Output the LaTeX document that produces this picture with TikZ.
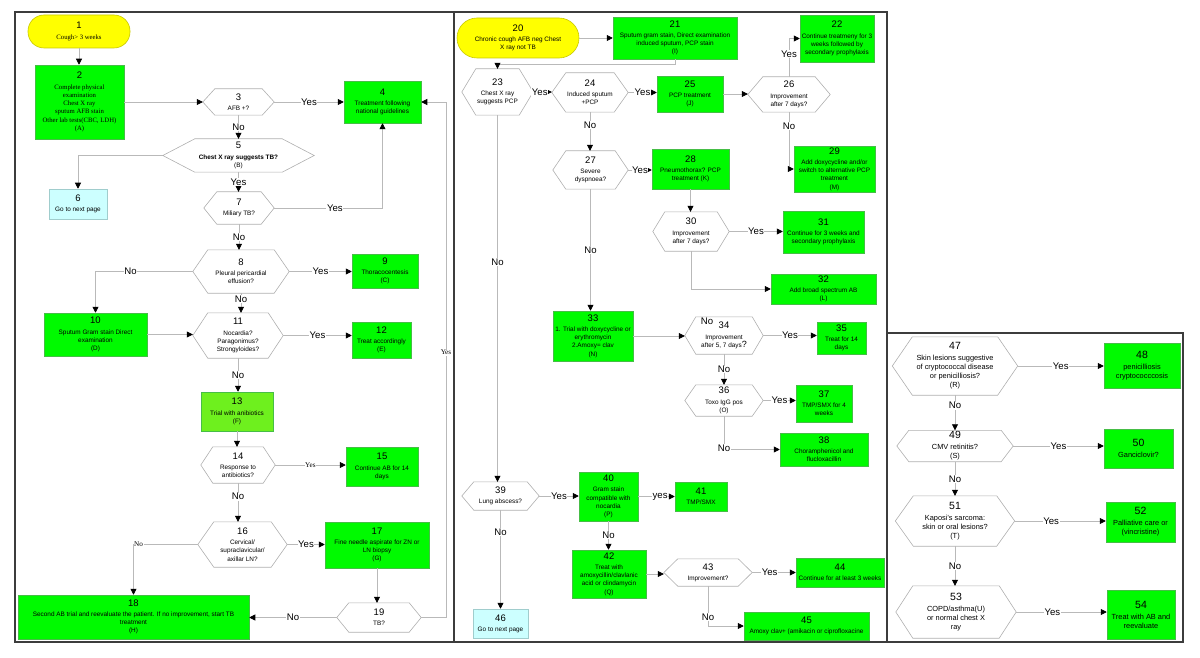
\documentclass[tikz,border=0pt]{standalone}
\usepackage{fontspec}
\setmainfont{Liberation Sans}
\newfontfamily\seriffont{Liberation Serif}
\usetikzlibrary{arrows.meta}
\definecolor{grn}{RGB}{0,250,0}
\definecolor{gbd}{RGB}{70,190,70}
\definecolor{limeg}{RGB}{110,240,30}
\definecolor{ylw}{RGB}{255,255,0}
\definecolor{ybd}{RGB}{200,200,0}
\definecolor{cyn}{RGB}{204,255,255}
\definecolor{cbd}{RGB}{160,205,205}
\definecolor{hexc}{RGB}{175,175,175}
\definecolor{lnc}{RGB}{185,185,185}
\definecolor{pnl}{RGB}{60,60,60}
\newcommand\nm[1]{{\normalfont\fontsize{9.5}{10}\selectfont #1}\\[2pt]}
\newcommand\nmb[1]{{\normalfont\fontsize{10.5}{11}\selectfont #1}\\[2pt]}
\newcommand\bx[7]{\node[#1, minimum width=#5pt, minimum height=#6pt] (#2) at (#3,#4) {#7};}
\newcommand\hexnode[7]{%
  \node[minimum width=#4pt, minimum height=#5pt] (#1) at (#2,#3) {#7};
  \draw[hexline] (#1.west) -- ([xshift=#6pt]#1.north west) -- ([xshift=-#6pt]#1.north east) -- (#1.east) -- ([xshift=-#6pt]#1.south east) -- ([xshift=#6pt]#1.south west) -- cycle;}
\tikzset{
  every node/.style={inner sep=0pt, align=center, font=\fontsize{6.4}{8.2}\selectfont},
  gbox/.style={draw=gbd, fill=grn, line width=0.5pt},
  lbox/.style={draw=gbd, fill=limeg, line width=0.5pt},
  ybox/.style={draw=ybd, fill=ylw, line width=0.6pt},
  cbox/.style={draw=cbd, fill=cyn, line width=0.5pt},
  hexline/.style={draw=hexc, line width=0.6pt},
  conn/.style={draw=lnc, line width=0.7pt, -{Triangle[length=6pt,width=6pt,color=black]}},
  lab/.style={font=\fontsize{9.6}{10}\selectfont, fill=white, inner sep=0.6pt},
  slab/.style={font=\seriffont\fontsize{7.2}{8}\selectfont, fill=white, inner sep=0.6pt},
  panel/.style={draw=pnl, line width=1.1pt},
  serifnode/.style={font=\seriffont\fontsize{6.7}{8.3}\selectfont}
}
\begin{document}
\begin{tikzpicture}[x=1pt,y=-1pt]
\useasboundingbox (0,0) rectangle (1200,658);
\draw[panel] (15,12) rectangle (454,642);
\draw[panel] (454,12) rectangle (887,642);
\draw[panel] (887,333) rectangle (1183,642);
% ---------- left panel ----------
\bx{ybox,rounded corners=16pt,serifnode}{N1}{79}{31.5}{102}{33}{\nm{1}Cough> 3 weeks}
\bx{gbox,serifnode}{N2}{79.5}{102}{89}{74}{\nm{2}Complete physical\\examination\\Chest X ray\\sputum AFB stain\\Other lab tests(CBC, LDH)\\(A)}
\hexnode{N3}{238.5}{102}{71}{26}{12}{\nm{3}AFB +?}
\bx{gbox}{N4}{382.5}{102}{77}{42}{\nm{4}Treatment following\\national guidelines}
\hexnode{N5}{238.5}{155.5}{151}{33}{32}{\nm{5}\textbf{Chest X ray suggests TB?}\\(B)}
\bx{cbox}{N6}{78}{204}{58}{30}{\nm{6}Go to next page}
\hexnode{N7}{239}{208}{70}{32}{13}{\nm{7}Miliary TB?}
\hexnode{N8}{241}{271.5}{96}{43}{15}{\nm{8}Pleural pericardial\\effusion?}
\bx{gbox}{N9}{385}{271}{66}{34}{\nm{9}Thoracocentesis\\(C)}
\bx{gbox}{N10}{95.5}{334.5}{103}{43}{\nm{10}Sputum Gram stain Direct\\examination\\(D)}
\hexnode{N11}{238}{335.5}{90}{45}{15}{\nm{11}Nocardia?\\Paragonimus?\\Strongyloides?}
\bx{gbox}{N12}{381.5}{340}{59}{36}{\nm{12}Treat accordingly\\(E)}
\bx{lbox}{N13}{237}{411.5}{72}{39}{\nm{13}Trial with anibiotics\\(F)}
\hexnode{N14}{238}{465}{74}{36}{12}{\nm{14}Response to\\antibiotics?}
\bx{gbox}{N15}{382}{466.5}{72}{39}{\nm{15}Continue AB for 14\\days}
\hexnode{N16}{242.5}{544.5}{89}{45}{16}{\nm{16}Cervical/\\supraclavicular/\\axillar LN?}
\bx{gbox}{N17}{377}{545}{104}{46}{\nm{17}Fine needle aspirate for ZN or\\LN biopsy\\(G)}
\bx{gbox}{N18}{133.5}{617}{231}{44}{\nm{18}Second AB trial and reevaluate the patient. If no improvement, start TB\\treatment\\(H)}
\hexnode{N19}{379}{617.5}{84}{29}{12}{\nm{19}TB?}
\coordinate (c1) at (446,102);
\draw[conn] (N1.south) -- (N1.south |- N2.north);
\draw[conn] (N2.east) -- (N2.east -| N3.west);
\draw[conn] (N3.east) -- node[lab]{Yes} (N3.east -| N4.west);
\draw[conn] (N3.south) -- node[lab]{No} (N3.south |- N5.north);
\draw[conn] (N5.west) -| (N6.north);
\draw[conn] (N5.south) -- node[lab]{Yes} (N5.south |- N7.north);
\draw[conn] (N7.east) -| node[lab,pos=0.28]{Yes} (N4.south);
\draw[conn] (N7.south) -- node[lab]{No} (N7.south |- N8.north);
\draw[conn] (N8.east) -- node[lab]{Yes} (N8.east -| N9.west);
\draw[conn] (N8.west) -| node[lab,pos=0.32]{No} (N10.north);
\draw[conn] (N8.south) -- node[lab,pos=0.3]{No} (N8.south |- N11.north);
\draw[conn] (N10.east) -- (N10.east -| N11.west);
\draw[conn] (N11.east) -- node[lab]{Yes} (N11.east -| N12.west);
\draw[conn] (N11.south) -- node[lab]{No} (N11.south |- N13.north);
\draw[conn] (N13.south) -- (N13.south |- N14.north);
\draw[conn] (N14.east) -- node[slab]{Yes} (N14.east -| N15.west);
\draw[conn] (N14.south) -- node[lab,pos=0.35]{No} (N14.south |- N16.north);
\draw[conn] (N16.east) -- node[lab]{Yes} (N16.east -| N17.west);
\draw[conn] (N16.west) -| node[slab,pos=0.46]{No} (N18.north);
\draw[conn] (N17.south) -- (N17.south |- N19.north);
\draw[conn] (N19.west) -- node[lab]{No} (N19.west -| N18.east);
\draw[conn] (N19.east) -| node[slab,pos=0.757]{Yes} (c1) -- (N4.east);
% ---------- middle panel ----------
\bx{ybox,rounded corners=20pt}{N20}{518}{38}{122}{40}{\nm{20}Chronic cough AFB neg Chest\\X ray not TB}
\bx{gbox}{N21}{675}{38}{124}{42}{\nm{21}Sputum gram stain, Direct examination\\induced sputum, PCP stain\\(I)}
\bx{gbox}{N22}{837}{38.5}{74}{47}{\nm{22}Continue treatmeny for 3\\weeks followed by\\secondary prophylaxis}
\hexnode{N23}{497.5}{92}{71}{46}{14}{\nm{23}Chest X ray\\suggests PCP}
\hexnode{N24}{590}{92.5}{76}{39}{14}{\nm{24}Induced sputum\\+PCP}
\bx{gbox}{N25}{690}{94}{66}{36}{\nm{25}PCP treatment\\(J)}
\hexnode{N26}{789}{94.5}{82}{35}{15}{\nm{26}Improvement\\after 7 days?}
\hexnode{N27}{590.5}{170}{75}{38}{13}{\nm{27}Severe\\dyspnoea?}
\bx{gbox}{N28}{690.5}{169}{77}{40}{\nm{28}Pneumothorax? PCP\\treatment (K)}
\bx{gbox}{N29}{834.5}{169}{81}{46}{\nm{29}Add doxycycline and/or\\switch to alternative PCP\\treatment\\(M)}
\hexnode{N30}{691}{231.5}{76}{39}{12}{\nm{30}Improvement\\after 7 days?}
\bx{gbox}{N31}{823.5}{232}{81}{42}{\nm{31}Continue for 3 weeks and\\secondary prophylaxis}
\bx{gbox}{N32}{823.5}{289}{105}{30}{\nm{32}Add broad spectrum AB\\(L)}
\bx{gbox}{N33}{593}{336}{80}{50}{\nm{33}1. Trial with doxycycline or\\erythromycin\\2.Amoxy= clav\\(N)}
\hexnode{N34}{724}{335.5}{78}{37}{11}{\nm{34}Improvement\\after 5, 7 days{\fontsize{9}{9}\selectfont ?}}
\bx{gbox}{N35}{841.5}{338}{49}{32}{\nm{35}Treat for 14\\days}
\hexnode{N36}{724}{400.5}{78}{31}{11}{\nm{36}Toxo IgG pos\\(O)}
\bx{gbox}{N37}{824}{403.5}{56}{37}{\nm{37}TMP/SMX for 4\\weeks}
\bx{gbox}{N38}{824}{449.5}{88}{33}{\nm{38}Choramphenicol and\\flucloxacillin}
\hexnode{N39}{500.5}{496}{77}{28}{12}{\nm{39}Lung abscess?}
\bx{gbox}{N40}{608.5}{496.5}{59}{49}{\nm{40}Gram stain\\compatible with\\nocardia\\(P)}
\bx{gbox}{N41}{701}{496.5}{52}{29}{\nm{41}TMP/SMX}
\bx{gbox}{N42}{609}{574}{74}{48}{\nm{42}Treat with\\amoxycillin/clavlanic\\acid or clindamycin\\(Q)}
\hexnode{N43}{708}{572.5}{88}{27}{14}{\nm{43}Improvement?}
\bx{gbox}{N44}{840}{572.5}{88}{29}{\nm{44}Continue for at least 3 weeks}
\bx{gbox}{N45}{806.5}{626}{125}{28}{\nm{45}Amoxy clav+ (amikacin or ciprofloxacine}
\bx{cbox}{N46}{500.5}{623.5}{55}{29}{\nm{46}Go to next page}
\node[font=\fontsize{9.6}{10}\selectfont] (L34) at (707,321) {No};
\coordinate (c2) at (497.5,64);
\draw[conn] (N20.east) -- (N20.east -| N21.west);
\draw[conn] (N21.south) |- (c2) -- (N23.north);
\draw[conn] (N23.east) -- node[lab,pos=0.35]{Yes} (N23.east -| N24.west);
\draw[conn] (N24.east) -- node[lab]{Yes} (N24.east -| N25.west);
\draw[conn] (N25.east) -- (N25.east -| N26.west);
\draw[conn] (N26.north) |- node[lab,pos=0.3]{Yes} (N22.west);
\draw[conn] (N26.south) |- node[lab,pos=0.12]{No} (N29.west);
\draw[conn] (N24.south) -- node[lab,pos=0.33]{No} (N24.south |- N27.north);
\draw[conn] (N27.east) -- node[lab]{Yes} (N27.east -| N28.west);
\draw[conn] (N28.south) -- (N28.south |- N30.north);
\draw[conn] (N30.east) -- node[lab]{Yes} (N30.east -| N31.west);
\draw[conn] (N30.south) |- (N32.west);
\draw[conn] (N27.south) -- node[lab]{No} (N27.south |- N33.north);
\draw[conn] (N23.south) -- node[lab,pos=0.4]{No} (N23.south |- N39.north);
\draw[conn] (N33.east) -- (N33.east -| N34.west);
\draw[conn] (N34.east) -- node[lab]{Yes} (N34.east -| N35.west);
\draw[conn] (N34.south) -- node[lab]{No} (N34.south |- N36.north);
\draw[conn] (N36.east) -- node[lab]{Yes} (N36.east -| N37.west);
\draw[conn] (N36.south) |- node[lab,pos=0.48]{No} (N38.west);
\draw[conn] (N39.east) -- node[lab]{Yes} (N39.east -| N40.west);
\draw[conn] (N40.east) -- node[lab,pos=0.6]{yes} (N40.east -| N41.west);
\draw[conn] (N40.south) -- node[lab]{No} (N40.south |- N42.north);
\draw[conn] (N42.east) -- (N42.east -| N43.west);
\draw[conn] (N43.east) -- node[lab,pos=0.4]{Yes} (N43.east -| N44.west);
\draw[conn] (N43.south) |- node[lab,pos=0.39]{No} (N45.west);
\draw[conn] (N39.south) -- node[lab,pos=0.22]{No} (N39.south |- N46.north);
% ---------- right panel ----------
\begin{scope}[every node/.append style={font=\fontsize{7.4}{9}\selectfont}]
\hexnode{N47}{955}{366}{125}{58}{20}{\nmb{47}Skin lesions suggestive\\of cryptococcal disease\\or penicilliosis?\\(R)}
\bx{gbox}{N48}{1142}{365.5}{76}{45}{\nmb{48}penicilliosis\\cryptococccosis}
\hexnode{N49}{955}{446}{116}{31}{12}{\nmb{49}CMV retinitis?\\(S)}
\bx{gbox}{N50}{1138.5}{448.5}{69}{39}{\nmb{50}Ganciclovir?}
\hexnode{N51}{955}{521}{119}{50}{18}{\nmb{51}Kaposi's sarcoma:\\skin or oral lesions?\\(T)}
\bx{gbox}{N52}{1140.5}{522}{69}{40}{\nmb{52}Palliative care or\\(vincristine)}
\hexnode{N53}{956}{612}{120}{52}{17}{\nmb{53}COPD/asthma(U)\\or normal chest X\\ray}
\bx{gbox}{N54}{1141}{614.5}{68}{49}{\nmb{54}Treat with AB and\\reevaluate}
\draw[conn] (N47.east) -- node[lab]{Yes} (N47.east -| N48.west);
\draw[conn] (N49.east) -- node[lab]{Yes} (N49.east -| N50.west);
\draw[conn] (N51.east) -- node[lab,pos=0.4]{Yes} (N51.east -| N52.west);
\draw[conn] (N53.east) -- node[lab,pos=0.4]{Yes} (N53.east -| N54.west);
\draw[conn] (N47.south) -- node[lab,pos=0.3]{No} (N47.south |- N49.north);
\draw[conn] (N49.south) -- node[lab]{No} (N49.south |- N51.north);
\draw[conn] (N51.south) -- node[lab]{No} (N51.south |- N53.north);
\end{scope}
\end{tikzpicture}
\end{document}
